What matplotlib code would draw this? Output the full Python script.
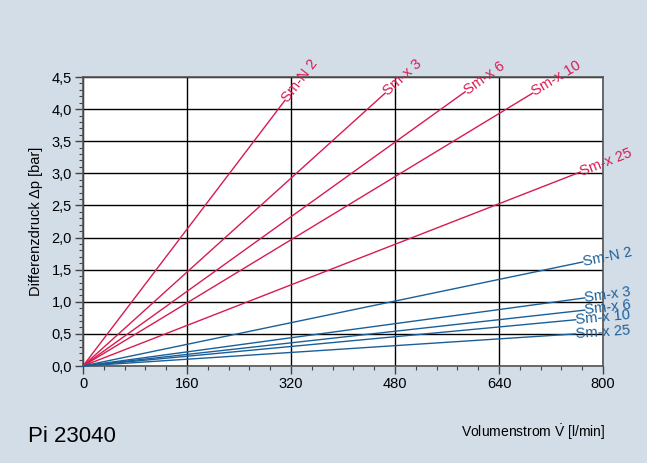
import numpy as np
import matplotlib.pyplot as plt
from matplotlib.ticker import MultipleLocator, FuncFormatter

# end points of the characteristic lines (they all start at 0/0)
red_labels = ['Sm-N 2', 'Sm-x 3', 'Sm-x 6', 'Sm-x 10', 'Sm-x 25']
red_flow = [311, 465, 588, 692, 765]
red_dp = [4.14, 4.25, 4.27, 4.25, 3.02]

blue_labels = ['Sm-N 2', 'Sm-x 3', 'Sm-x 6', 'Sm-x 10', 'Sm-x 25']
blue_flow = [769, 772, 772, 758, 758]
blue_dp = [1.62, 1.06, 0.87, 0.72, 0.50]

xticks = [0, 160, 320, 480, 640, 800]
yticks = [0.0, 0.5, 1.0, 1.5, 2.0, 2.5, 3.0, 3.5, 4.0, 4.5]

bg = '#d3dde8'
red = '#d81b4f'
blue = '#1b5f98'

plt.rcParams['font.family'] = ['Liberation Sans', 'DejaVu Sans']
plt.rcParams['mathtext.fontset'] = 'custom'
plt.rcParams['mathtext.rm'] = 'Liberation Sans'

fig = plt.figure(figsize=(6.47, 4.63), dpi=100, facecolor=bg)
ax = fig.add_axes([83 / 647, (463 - 366) / 463, 520 / 647, 289 / 463])
ax.set_facecolor('white')
ax.set_xlim(0, 800)
ax.set_ylim(0, 4.5)
ax.set_xticks(xticks)
ax.set_yticks(yticks)
ax.xaxis.set_minor_locator(MultipleLocator(32))
ax.yaxis.set_minor_locator(MultipleLocator(0.1))
ax.yaxis.set_major_formatter(FuncFormatter(lambda v, p: f'{v:.1f}'.replace('.', ',')))
ax.tick_params(which='major', direction='out', length=6, width=1, color='#444',
               labelsize=10.5, pad=2)
ax.tick_params(which='minor', direction='out', length=3, width=0.8, color='#444')
ax.grid(which='major', color='black', lw=1)
for s in ax.spines.values():
    s.set_color('#555')
    s.set_linewidth(1.2)

fig.canvas.draw()


def draw_set(flows, dps, labels, color):
    for f, d, lab in zip(flows, dps, labels):
        ax.plot([0, f], [0, d], color=color, lw=1, clip_on=False, zorder=3)
        p0 = ax.transData.transform((0, 0))
        p1 = ax.transData.transform((f, d))
        ang = np.degrees(np.arctan2(p1[1] - p0[1], p1[0] - p0[0]))
        ax.text(f, d, lab, color=color, fontsize=10.5, rotation=ang,
                rotation_mode='anchor', ha='left', va='center', clip_on=False,
                zorder=4)


draw_set(red_flow, red_dp, red_labels, red)
draw_set(blue_flow, blue_dp, blue_labels, blue)

ax.set_ylabel('Differenzdruck Δp [bar]', fontsize=10.5, labelpad=6)
fig.text(605 / 647, 1 - 432 / 463, r'Volumenstrom $\dot{\mathrm{V}}$ [l/min]',
         fontsize=10, ha='right', va='center')
fig.text(28 / 647, 1 - 437 / 463, 'Pi 23040', fontsize=16, ha='left', va='center')

fig.savefig('out.png', dpi=100, facecolor=bg)
